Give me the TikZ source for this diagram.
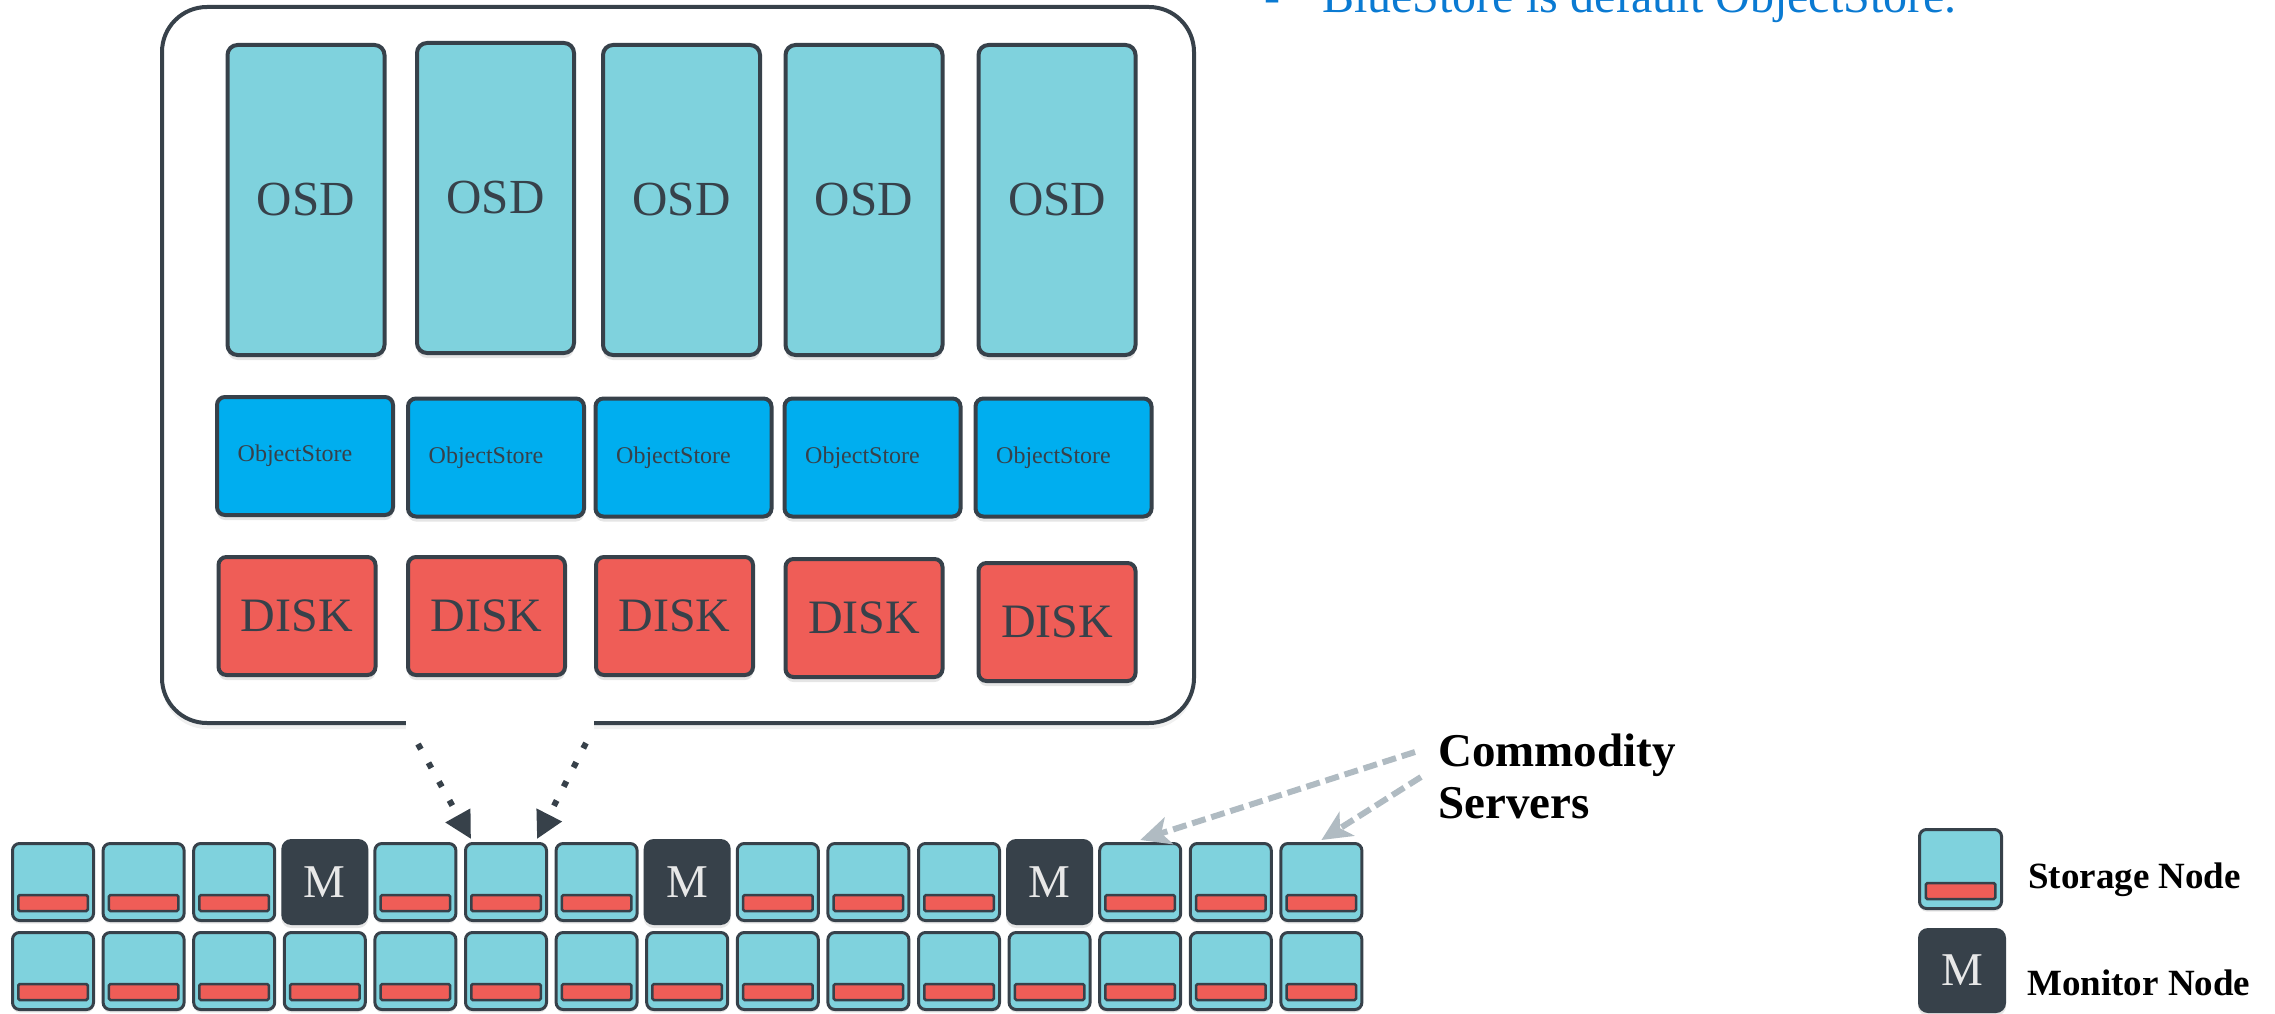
\documentclass[tikz,border=0pt]{standalone}
\usepackage{fontspec}
\setmainfont{Liberation Serif}
\usetikzlibrary{shadows,arrows.meta}
\definecolor{cyanbox}{RGB}{127,210,221}
\definecolor{osblue}{RGB}{0,174,239}
\definecolor{diskred}{RGB}{239,93,87}
\definecolor{slate}{RGB}{55,65,74}
\definecolor{mtext}{RGB}{232,232,232}
\definecolor{bluetext}{RGB}{10,122,210}
\definecolor{greyarrow}{RGB}{176,187,194}
\begin{document}
\begin{tikzpicture}[x=1pt,y=-1pt,
  boxshadow/.style={drop shadow={shadow xshift=0pt,shadow yshift=-5pt,opacity=0.2}},
  smallshadow/.style={drop shadow={shadow xshift=0pt,shadow yshift=-3pt,opacity=0.2}},
  hostbox/.style={draw=slate,line width=4pt,fill=white,rounded corners=45pt,minimum width=1032pt,minimum height=716pt,inner sep=0pt,drop shadow={shadow xshift=0pt,shadow yshift=-6pt,opacity=0.12}},
  osdbox/.style={draw=slate,line width=4pt,fill=cyanbox,rounded corners=10pt,minimum width=157pt,minimum height=310pt,inner sep=0pt,boxshadow,text=slate,font=\fontsize{49}{58}\selectfont},
  osbox/.style={draw=slate,line width=4pt,fill=osblue,rounded corners=8pt,minimum width=176pt,minimum height=118pt,inner sep=0pt,boxshadow,text=slate,font=\fontsize{24}{29}\selectfont},
  diskbox/.style={draw=slate,line width=4pt,fill=diskred,rounded corners=8pt,minimum width=157pt,minimum height=118pt,inner sep=0pt,boxshadow,text=slate,font=\fontsize{48}{58}\selectfont},
  sbox/.style={draw=slate,line width=3pt,fill=cyanbox,rounded corners=7pt,minimum width=81pt,minimum height=77pt,inner sep=0pt,smallshadow},
  sbar/.style={draw=slate,line width=2.5pt,fill=diskred,rounded corners=1.5pt,minimum width=69.5pt,minimum height=16pt,inner sep=0pt},
  mbox/.style={fill=slate,rounded corners=10pt,minimum width=87pt,minimum height=86pt,inner sep=0pt,smallshadow,text=mtext,font=\fontsize{47}{56}\selectfont},
  dotarrow/.style={draw=slate,line width=6pt,dash pattern=on 6pt off 15.5pt,-{Triangle[length=27pt,width=27pt]}},
  greyarrowst/.style={draw=greyarrow,line width=6pt,dash pattern=on 14pt off 6pt,-{Stealth[length=30pt,width=28pt,inset=8pt]}},
  lbl/.style={anchor=base west,inner sep=0pt},
]
\useasboundingbox (0,0) rectangle (2275,1014);

% host container
\node[hostbox] (host) at (678,365) {};
\fill[white] (406,714) rectangle (594,737);

% OSDs
\node[osdbox] (osd1) at (306,200) {OSD};
\node[osdbox] (osd2) at (495.5,198) {OSD};
\node[osdbox] (osd3) at (681.5,200) {OSD};
\node[osdbox] (osd4) at (864,200) {OSD};
\node[osdbox] (osd5) at (1057,200) {OSD};

% ObjectStores
\node[osbox] (os1) at (305,456) {\hspace*{-20pt}ObjectStore};
\node[osbox] (os2) at (496,457.5) {\hspace*{-20pt}ObjectStore};
\node[osbox] (os3) at (683.5,457.5) {\hspace*{-20pt}ObjectStore};
\node[osbox] (os4) at (872.5,457.5) {\hspace*{-20pt}ObjectStore};
\node[osbox] (os5) at (1063.5,457.5) {\hspace*{-20pt}ObjectStore};

% Disks
\node[diskbox] (disk1) at (297,616) {DISK};
\node[diskbox] (disk2) at (486.5,616) {DISK};
\node[diskbox] (disk3) at (674.5,616) {DISK};
\node[diskbox] (disk4) at (864,618) {DISK};
\node[diskbox] (disk5) at (1057,622) {DISK};

% servers, bottom row
\foreach \c in {0,...,14}{
  \pgfmathsetmacro\xc{53+\c*90.6}
  \node[sbox] (s2-\c) at (\xc,971) {};
  \node[sbar] (b2-\c) at ([yshift=-21pt]s2-\c.center) {};
}
% servers, top row
\foreach \c in {0,1,2,4,5,6,8,9,10,12,13,14}{
  \pgfmathsetmacro\xc{53+\c*90.6}
  \node[sbox] (s1-\c) at (\xc,882) {};
  \node[sbar] (b1-\c) at ([yshift=-21pt]s1-\c.center) {};
}
\foreach \c in {3,7,11}{
  \pgfmathsetmacro\xc{53+\c*90.6}
  \node[mbox] (s1-\c) at (\xc,882) {M};
}

% dotted arrows from host to a server
\coordinate (gapL) at (418,744);
\coordinate (gapR) at (586,743);
\draw[dotarrow] (gapL) -- ([xshift=-35pt,yshift=3pt]s1-5.north);
\draw[dotarrow] (gapR) -- ([xshift=31pt,yshift=3pt]s1-5.north);

% commodity servers label
\node[lbl,font=\fontsize{47}{51}\bfseries] (comm1) at (1438,766.7) {Commodity};
\node[lbl,font=\fontsize{47}{51}\bfseries] (comm2) at (1438,818) {Servers};
\coordinate (cA) at (1415,752);
\coordinate (cB) at (1421,777);
\draw[greyarrowst] (cA) -- ([yshift=2pt]s1-12.north);
\draw[greyarrowst] (cB) -- ([yshift=2pt]s1-14.north);

% top text
\node[lbl,text=bluetext,font=\fontsize{48}{58}\selectfont] (dash) at (1264,12.7) {-};
\node[lbl,text=bluetext,font=\fontsize{48}{58}\selectfont] (bluestore) at (1322,12.7) {BlueStore is default ObjectStore.};

% legend
\node[sbox,minimum width=82pt,minimum height=79pt] (legS) at (1960.5,869) {};
\node[sbar,minimum width=69.5pt,minimum height=16pt] (legSbar) at ([yshift=-22pt]legS.center) {};
\node[mbox,minimum width=88pt,minimum height=85pt] (legM) at (1962,970.5) {M};
\node[lbl,font=\fontsize{37}{44}\bfseries] (legSt) at (2028,888) {Storage Node};
\node[lbl,font=\fontsize{37}{44}\bfseries] (legMt) at (2027,995) {Monitor Node};
\end{tikzpicture}
\end{document}
